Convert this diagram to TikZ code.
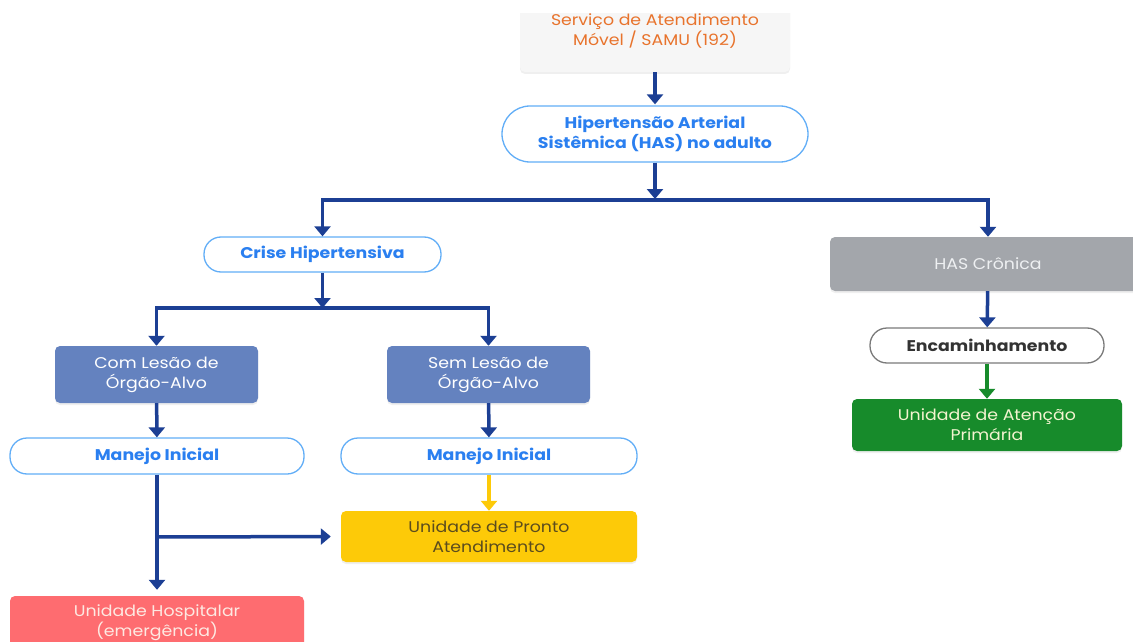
\documentclass[tikz,border=0pt]{standalone}
\usepackage{fontspec}
\setmainfont{Poppins}[FakeStretch=1.12]
\usetikzlibrary{arrows.meta,shadows}
\definecolor{linkblue}{HTML}{1C3F94}
\definecolor{pillborder}{HTML}{62AEF7}
\definecolor{pilltext}{HTML}{2A7FF0}
\definecolor{samufill}{HTML}{F6F6F6}
\definecolor{samutext}{HTML}{E8732C}
\definecolor{chronfill}{HTML}{A3A6AB}
\definecolor{chrontext}{HTML}{EEF0F2}
\definecolor{encborder}{HTML}{7A7A7A}
\definecolor{enctext}{HTML}{333333}
\definecolor{apsfill}{HTML}{178B2B}
\definecolor{apstext}{HTML}{F4F4D0}
\definecolor{lesfill}{HTML}{6482BF}
\definecolor{upafill}{HTML}{FDCA08}
\definecolor{upatext}{HTML}{5B4C1E}
\definecolor{hospfill}{HTML}{FE6C70}
\definecolor{hosptext}{HTML}{FDE9E2}
\tikzset{
  base/.style={align=center, inner sep=0pt, font=\fontsize{15.5}{20}\selectfont},
  card/.style={base, rectangle, rounded corners=5pt,
    drop shadow={opacity=0.12, shadow xshift=0pt, shadow yshift=-2pt}},
  pill/.style={base, rectangle, rounded corners=17pt, draw=pillborder, line width=1.3pt,
    fill=white, text=pilltext, font=\fontsize{15.5}{20}\selectfont\bfseries},
  conn/.style={draw=linkblue, line width=3.5pt, -{Triangle[width=16pt,length=10pt]}},
}
\begin{document}
\begin{tikzpicture}[x=1pt,y=-1pt]
\useasboundingbox[fill=white] (0,0) rectangle (1133,642);
\clip (0,14) rectangle (1133,642);

% boxes
\node[card, fill=samufill, text=samutext, minimum width=270pt, minimum height=81pt]
  (samu) at (655,31.5) {Serviço de Atendimento\\Móvel / SAMU (192)};
\node[pill, rounded corners=28pt, minimum width=306pt, minimum height=56pt]
  (has) at (655,134) {Hipertensão Arterial\\Sistêmica (HAS) no adulto};
\node[pill, minimum width=237pt, minimum height=35pt]
  (crise) at (322.5,254.5) {Crise Hipertensiva};
\node[card, fill=chronfill, text=chrontext, minimum width=316pt, minimum height=54pt]
  (chron) at (988,264) {HAS Crônica};
\node[pill, draw=encborder, text=enctext, minimum width=234pt, minimum height=35pt]
  (enc) at (987,345.5) {Encaminhamento};
\node[card, fill=apsfill, text=apstext, minimum width=270pt, minimum height=52pt]
  (aps) at (987,425) {Unidade de Atenção\\Primária};
\node[card, fill=lesfill, text=white, minimum width=203pt, minimum height=57pt]
  (com) at (156.5,374.5) {Com Lesão de\\Órgão-Alvo};
\node[card, fill=lesfill, text=white, minimum width=203pt, minimum height=57pt]
  (sem) at (488.5,374.5) {Sem Lesão de\\Órgão-Alvo};
\node[pill, minimum width=294pt, minimum height=36pt]
  (man1) at (157,456) {Manejo Inicial};
\node[pill, minimum width=296pt, minimum height=36pt]
  (man2) at (489,456) {Manejo Inicial};
\node[card, fill=upafill, text=upatext, minimum width=296pt, minimum height=51pt]
  (upa) at (489,536.5) {Unidade de Pronto\\Atendimento};
\node[card, fill=hospfill, text=hosptext, minimum width=294pt, minimum height=54pt]
  (hosp) at (157,623) {Unidade Hospitalar\\(emergência)};

% junction points
\coordinate (j1) at (655,200);
\coordinate (j2) at (322.5,308);
\coordinate (j3) at (157,537);

% connectors
\draw[conn, shorten >=1pt] (samu) -- (has);
\draw[conn, shorten >=1pt] (has) -- (j1);
\draw[conn] (j1) -| (crise);
\draw[conn] (j1) -| (chron);
\draw[conn] (crise) -- (j2);
\draw[conn] (j2) -| (com);
\draw[conn] (j2) -| (sem);
\draw[conn] (com) -- (man1);
\draw[conn] (sem) -- (man2);
\draw[conn, draw=upafill] (man2) -- (upa);
\draw[conn, shorten >=6pt] (man1) -- (hosp);
\draw[conn, shorten >=10pt] (j3) -- (upa.west);
\draw[conn] (chron) -- (enc);
\draw[conn, draw=apsfill] (enc) -- (aps);
\end{tikzpicture}
\end{document}
